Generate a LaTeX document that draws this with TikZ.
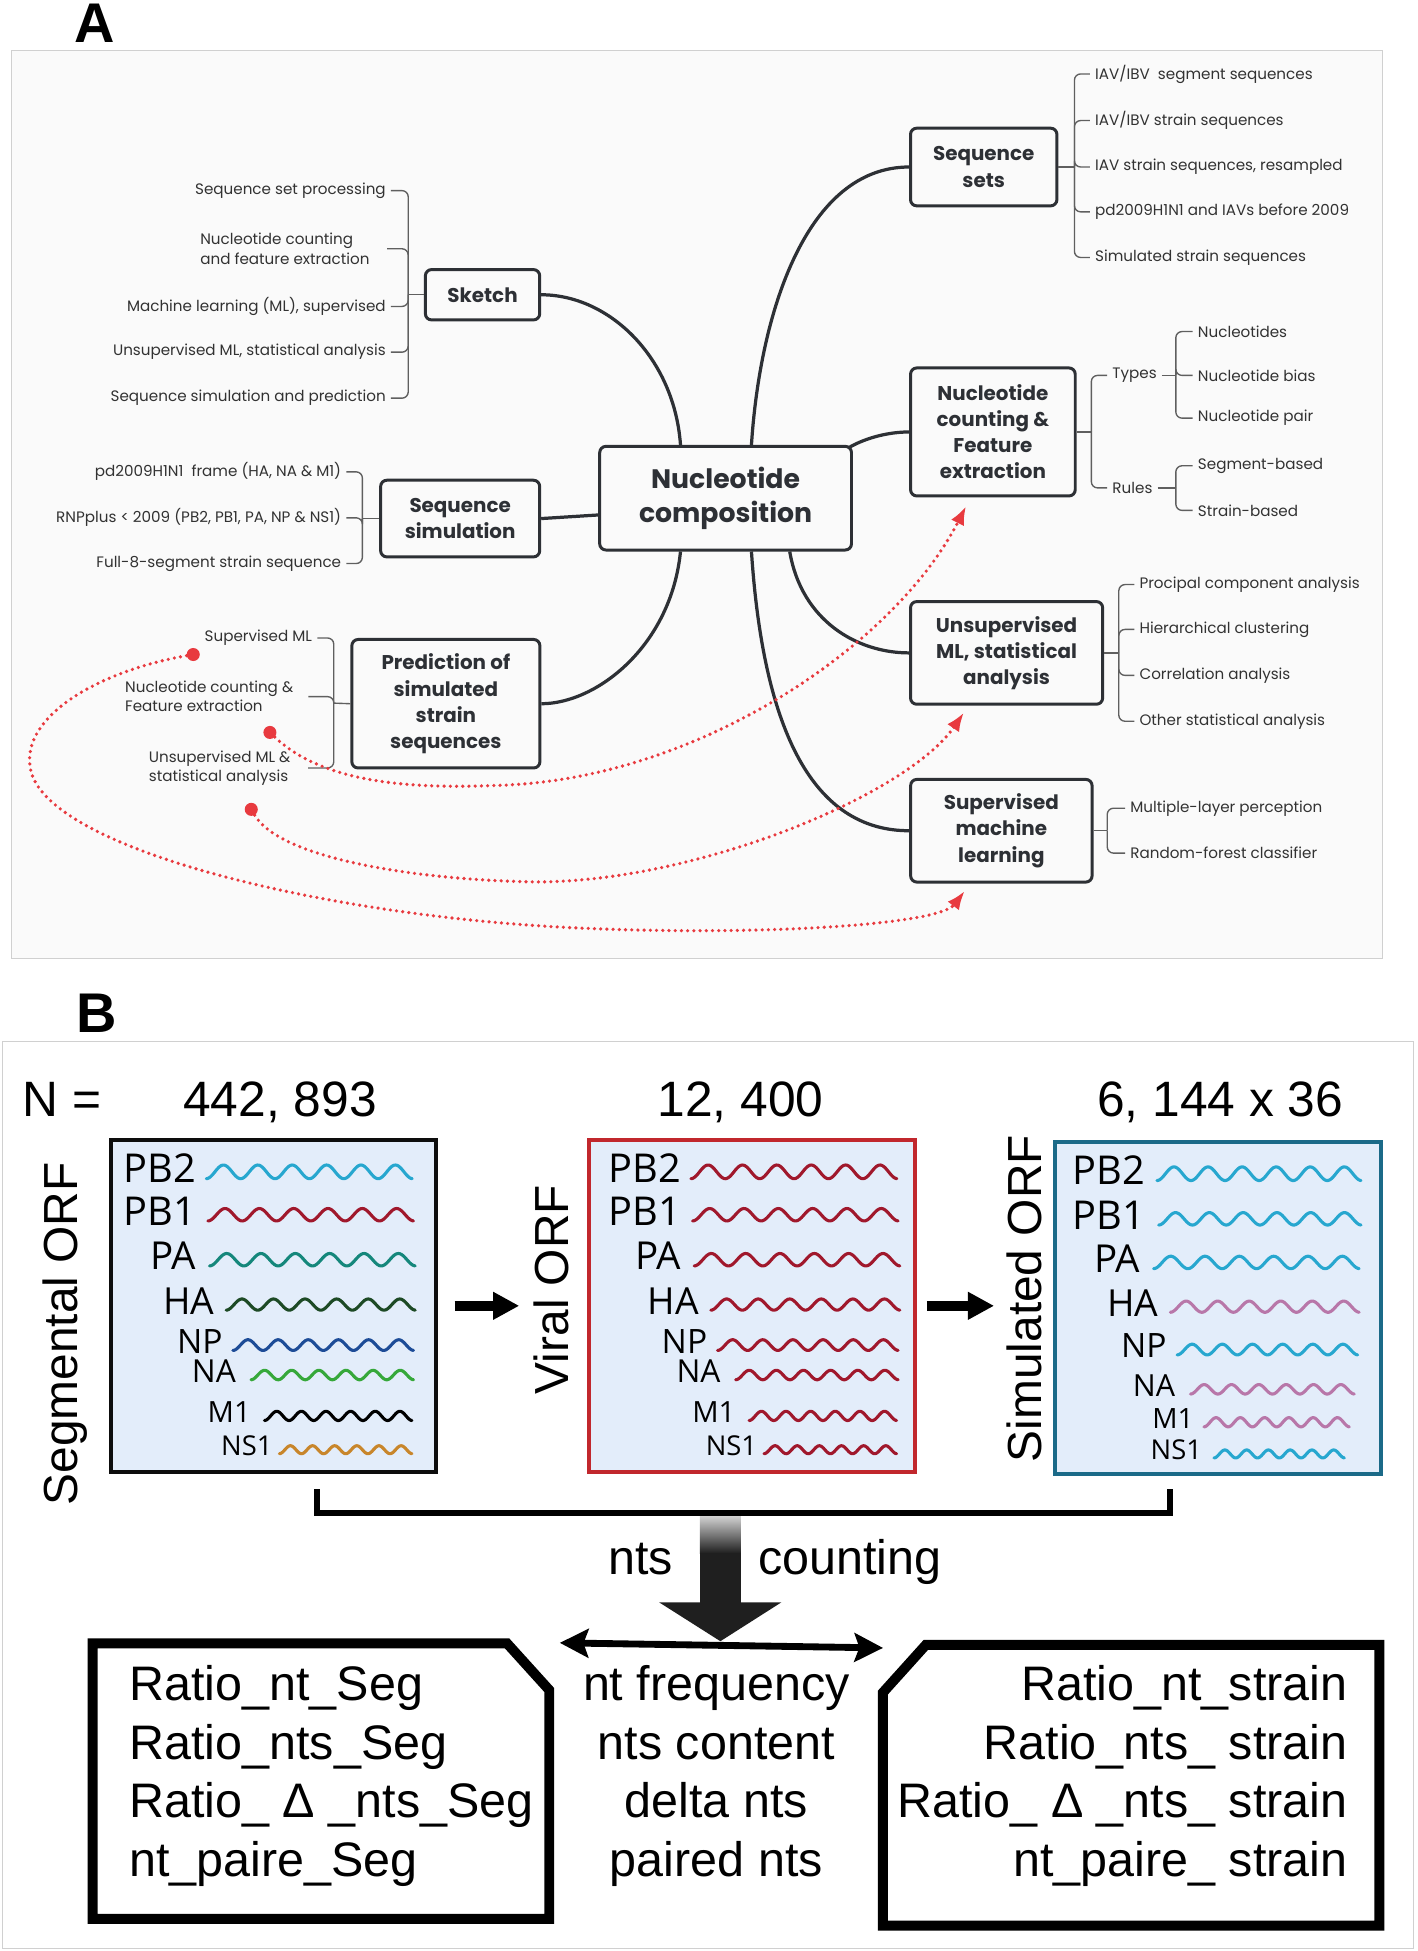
\documentclass[tikz,border=0pt]{standalone}
\usepackage{fontspec}
\usetikzlibrary{positioning, arrows.meta, calc, shapes}
\newfontfamily\mapfont{Poppins}
\newfontfamily\orffont{Liberation Sans}
\newfontfamily\genefont{Open Sans}
\definecolor{mapdark}{RGB}{45,48,53}
\definecolor{mapbg}{RGB}{250,250,250}
\definecolor{framegray}{RGB}{208,208,208}
\definecolor{leafgray}{RGB}{50,50,50}
\definecolor{leafline}{RGB}{95,95,95}
\definecolor{myred}{RGB}{232,58,63}
\definecolor{orffill}{RGB}{227,237,250}
\definecolor{viralred}{RGB}{193,39,45}
\definecolor{simblue}{RGB}{27,106,136}
\definecolor{gcyan}{RGB}{39,167,207}
\definecolor{gred}{RGB}{160,24,44}
\definecolor{gteal}{RGB}{21,135,123}
\definecolor{gdkgreen}{RGB}{29,74,37}
\definecolor{gnavy}{RGB}{29,76,151}
\definecolor{ggreen}{RGB}{54,168,58}
\definecolor{gorange}{RGB}{200,134,43}
\definecolor{gmauve}{RGB}{184,119,169}
\tikzset{
  panel/.style={inner sep=0, font=\orffont\bfseries\fontsize{45}{50}\selectfont},
  topic/.style={draw=mapdark, line width=2.4, rounded corners=5, fill=mapbg, align=center,
    text=mapdark, inner sep=2, font=\mapfont\bfseries\fontsize{16}{21}\selectfont},
  leaf/.style={inner xsep=4, inner ysep=1, text=leafgray, align=left,
    font=\mapfont\fontsize{12.2}{15.4}\selectfont},
  branch/.style={draw=leafline, line width=1.1, rounded corners=5},
  trunk/.style={draw=mapdark, line width=2.6},
  reddot/.style={circle, fill=myred, inner sep=0, minimum size=10.5},
  redlink/.style={draw=myred, line width=2.9, dash pattern=on 0pt off 5pt, line cap=round,
    -{Latex[length=15,width=11.5]}},
  orfbox/.style={draw, line width=3.5, fill=orffill, minimum width=262, minimum height=267, inner sep=0},
  orfname/.style={inner sep=0, font=\orffont\fontsize{38.5}{40}\selectfont},
  genelabel/.style={inner sep=0, anchor=east},
  wave/.style={line width=2.5, line cap=round},
  count/.style={inner sep=0, anchor=base, font=\orffont\fontsize{40}{48}\selectfont},
  ratio/.style={inner sep=0, font=\orffont\fontsize{39}{47}\selectfont},
  boxarrow/.style={line width=8, -{Triangle[length=21,width=21]}},
  bracketline/.style={line width=4.5},
  outbox/.style={line width=8, miter limit=20}
}
\newcommand{\orfrow}[9]{%
  \node[genelabel, font=\genefont\fontsize{#4}{#4}\selectfont] (#1) at (#2,#3) {#5};
  \draw[wave, #9] plot[domain=0:1, samples=150] ({#6+\x*(#7-#6)}, {#3+3+#8*cos(\x*2160)});
}

\begin{document}
\begin{tikzpicture}[x=1pt, y=-1pt]
\useasboundingbox (0,0) rectangle (1140.3,1570);

% ---------------- A
\node[panel] (labA) at (76,18.8) {A};
\draw[framegray, fill=mapbg] (9,40.2) rectangle (1112.7,771);

\node[topic, minimum width=202.6, minimum height=83.4, font=\mapfont\bfseries\fontsize{21.5}{27.3}\selectfont] (nc) at (583.9,400.9) {Nucleotide\\composition};
\node[topic, minimum width=92, minimum height=40.5] (sketch) at (388.3,237.2) {Sketch};
\node[topic, minimum width=128, minimum height=61.7] (sim) at (370.3,417.3) {Sequence\\simulation};
\node[topic, minimum width=151.3, minimum height=103.4] (pred) at (358.8,566.3) {Prediction of\\simulated\\strain\\sequences};
\node[topic, minimum width=117.8, minimum height=62.5] (sets) at (791.6,134.4) {Sequence\\sets};
\node[topic, minimum width=132.5, minimum height=103] (ncount) at (799,347.6) {Nucleotide\\counting \&\\Feature\\extraction};
\node[topic, minimum width=154.6, minimum height=82.6] (unsup) at (810,525.4) {Unsupervised\\ML, statistical\\analysis};
\node[topic, minimum width=146, minimum height=82.6] (sup) at (805.8,668.5) {Supervised\\machine\\learning};

\draw[trunk] (sketch.east) .. controls +(55,0) and +(-5,-70) .. ($(nc.north)+(-36.3,0)$);
\draw[trunk] ($(nc.north)+(20.8,0)$) .. controls +(7,-108) and +(-82,0) .. (sets.west);
\draw[trunk] ($(nc.west)+(0,13.5)$) -- (sim.east);
\draw[trunk] ($(nc.south)+(-36.3,0)$) .. controls +(-7.6,76) and +(44.4,0) .. (pred.east);
\draw[trunk] ($(nc.north east)+(-3,2)$) .. controls +(14,-8) and +(-16,0) .. (ncount.west);
\draw[trunk] ($(nc.south)+(51.6,0)$) .. controls +(9.5,56) and +(-41.5,0) .. (unsup.west);
\draw[trunk] ($(nc.south)+(20.8,0)$) .. controls +(10.3,156) and +(-71.5,0) .. (sup.west);

% sketch leaves
\node[leaf, anchor=east] (sk1) at (314.6,153.4) {Sequence set processing};
\node[leaf, anchor=west] (sk2) at (157,200.2) {Nucleotide counting\\and feature extraction};
\node[leaf, anchor=east] (sk3) at (314.6,246.6) {Machine learning (ML), supervised};
\node[leaf, anchor=east] (sk4) at (314.6,283.4) {Unsupervised ML, statistical analysis};
\node[leaf, anchor=east] (sk5) at (314.6,320.4) {Sequence simulation and prediction};
\coordinate (skj) at (328.5,237.2);
\draw[branch] (sketch.west) -- (skj);
\draw[branch] (skj) |- (sk1.east);
\draw[branch] (skj) |- ([xshift=10]sk2.east);
\draw[branch] (skj) |- (sk3.east);
\draw[branch] (skj) |- (sk4.east);
\draw[branch] (skj) |- (sk5.east);

% simulation leaves
\node[leaf, anchor=east] (sm1) at (278.7,379.7) {pd2009H1N1~ frame (HA, NA \& M1)};
\node[leaf, anchor=east] (sm2) at (278.7,416.7) {RNPplus < 2009 (PB2, PB1, PA, NP \& NS1)};
\node[leaf, anchor=east] (sm3) at (278.7,453.5) {Full-8-segment strain sequence};
\coordinate (smj) at (291.6,417.3);
\draw[branch] (sim.west) -- (smj);
\draw[branch] (smj) |- (sm1.east);
\draw[branch] (smj) |- (sm2.east);
\draw[branch] (smj) |- (sm3.east);

% prediction leaves
\node[leaf, anchor=east] (pr1) at (255.3,513.4) {Supervised ML};
\node[leaf, anchor=west] (pr2) at (96.5,560.6) {Nucleotide counting \&\\Feature extraction};
\node[leaf, anchor=west] (pr3) at (115.6,618) {Unsupervised ML \&\\statistical analysis};
\coordinate (prj) at (268.6,565.8);
\draw[branch] (pred.west) -- (prj);
\draw[branch] (prj) |- (pr1.east);
\draw[branch] (prj) |- ([xshift=8]pr2.east);
\draw[branch] (prj) |- ([xshift=10]pr3.east);

% sequence sets leaves
\node[leaf, anchor=west] (ss1) at (877.1,59.5) {IAV/IBV~ segment sequences};
\node[leaf, anchor=west] (ss2) at (877.1,97) {IAV/IBV strain sequences};
\node[leaf, anchor=west] (ss3) at (877.1,134.4) {IAV strain sequences, resampled};
\node[leaf, anchor=west] (ss4) at (877.1,170.5) {pd2009H1N1 and IAVs before 2009};
\node[leaf, anchor=west] (ss5) at (877.1,207.2) {Simulated strain sequences};
\coordinate (ssj) at (864.6,134.4);
\draw[branch] (sets.east) -- (ssj);
\draw[branch] (ssj) |- (ss1.west);
\draw[branch] (ssj) |- (ss2.west);
\draw[branch] (ssj) |- (ss3.west);
\draw[branch] (ssj) |- (ss4.west);
\draw[branch] (ssj) |- (ss5.west);

% counting leaves
\node[leaf, anchor=west] (types) at (891,302.1) {Types};
\node[leaf, anchor=west] (rules) at (891,392.6) {Rules};
\coordinate (ncj) at (878.2,347.6);
\draw[branch] (ncount.east) -- (ncj);
\draw[branch] (ncj) |- (types.west);
\draw[branch] (ncj) |- (rules.west);
\node[leaf, anchor=west] (ty1) at (959.8,266.8) {Nucleotides};
\node[leaf, anchor=west] (ty2) at (959.8,302.1) {Nucleotide bias};
\node[leaf, anchor=west] (ty3) at (959.8,336.5) {Nucleotide pair};
\coordinate (tyj) at (946.2,302.1);
\draw[branch] (types.east) -- (tyj);
\draw[branch] (tyj) |- (ty1.west);
\draw[branch] (tyj) |- (ty2.west);
\draw[branch] (tyj) |- (ty3.west);
\node[leaf, anchor=west] (ru1) at (959.8,374.8) {Segment-based};
\node[leaf, anchor=west] (ru2) at (959.8,410.7) {Strain-based};
\coordinate (ruj) at (946.2,392.6);
\draw[branch] (rules.east) -- (ruj);
\draw[branch] (ruj) |- (ru1.west);
\draw[branch] (ruj) |- (ru2.west);

% unsupervised leaves
\node[leaf, anchor=west] (un1) at (912.8,470.4) {Procipal component analysis};
\node[leaf, anchor=west] (un2) at (912.8,506.5) {Hierarchical clustering};
\node[leaf, anchor=west] (un3) at (912.8,543.5) {Correlation analysis};
\node[leaf, anchor=west] (un4) at (912.8,580.4) {Other statistical analysis};
\coordinate (unj) at (900.3,525.4);
\draw[branch] (unsup.east) -- (unj);
\draw[branch] (unj) |- (un1.west);
\draw[branch] (unj) |- (un2.west);
\draw[branch] (unj) |- (un3.west);
\draw[branch] (unj) |- (un4.west);

% supervised leaves
\node[leaf, anchor=west] (su1) at (905.4,650.4) {Multiple-layer perception};
\node[leaf, anchor=west] (su2) at (905.4,686.5) {Random-forest classifier};
\coordinate (suj) at (891,668.5);
\draw[branch] (sup.east) -- (suj);
\draw[branch] (suj) |- (su1.west);
\draw[branch] (suj) |- (su2.west);

% red links
\node[reddot] (d1) at (155.5,526.7) {};
\node[reddot] (d2) at (217.2,589.4) {};
\node[reddot] (d3) at (202.2,651.3) {};
\coordinate (t1) at (777.4,407.3);
\coordinate (t2) at (775.6,573.5);
\coordinate (t3) at (776.3,717);
\draw[redlink] (d2) .. controls (260,630) and (330,635) .. (400,632) .. controls (560,628) and (720,520) .. (t1);
\draw[redlink] (d3) .. controls (225,690) and (330,708) .. (431,709.7) .. controls (560,710) and (730,640) .. (t2);
\draw[redlink] (d1) .. controls (80,540) and (20,575) .. (24,615) .. controls (28,680) and (250,735) .. (450,746) .. controls (600,754) and (755,745) .. (t3);

% ---------------- B
\draw[framegray, fill=white] (2.2,838) rectangle (1137.2,1567.5);
\node[panel] (labB) at (77.5,815) {B};

\node[count, anchor=base west] (nlab) at (18,898.3) {N =};
\node[count] (nseg) at (225.3,898.3) {442, 893};
\node[count] (nvir) at (596,898.3) {12, 400};
\node[count] (nsim) at (981.9,898.3) {6, 144 x 36};

\node[orfbox, draw=black!95] (seg) at (220.1,1050.8) {};
\node[orfbox, draw=viralred] (vir) at (605.2,1050.8) {};
\node[orfbox, draw=simblue] (simorf) at (980.2,1052.5) {};
\node[orfname, rotate=90] (segname) at (52.8,1073.3) {Segmental ORF};
\node[orfname, rotate=90] (virname) at (443.9,1037.7) {Viral ORF};
\node[orfname, rotate=90] (simname) at (824,1045) {Simulated ORF};

\orfrow{s1a}{158}{940}{32}{PB2}{166}{332}{5.5}{gcyan}
\orfrow{s1b}{158}{974.5}{32}{PB1}{167.3}{333}{5}{gred}
\orfrow{s1c}{158}{1010.7}{31}{PA}{168.6}{334.4}{5}{gteal}
\orfrow{s1d}{172.6}{1046.8}{30}{HA}{182}{334.4}{4.5}{gdkgreen}
\orfrow{s1e}{179.3}{1079.4}{27}{NP}{187.4}{333}{4.3}{gnavy}
\orfrow{s1f}{190}{1103.5}{25.5}{NA}{202}{333}{3.8}{ggreen}
\orfrow{s1g}{202}{1136.4}{23.5}{M1}{212.8}{331.7}{3.7}{black}
\orfrow{s1h}{219.4}{1163.6}{22}{NS1}{224.8}{331.7}{3.2}{gorange}

\orfrow{s2a}{548}{940}{32}{PB2}{556}{722}{5.5}{gred}
\orfrow{s2b}{548}{974.5}{32}{PB1}{557.3}{723}{5}{gred}
\orfrow{s2c}{548}{1010.7}{31}{PA}{558.6}{724.4}{5}{gred}
\orfrow{s2d}{562.6}{1046.8}{30}{HA}{572}{724.4}{4.5}{gred}
\orfrow{s2e}{569.3}{1079.4}{27}{NP}{577.4}{723}{4.3}{gred}
\orfrow{s2f}{580}{1103.5}{25.5}{NA}{592}{723}{3.8}{gred}
\orfrow{s2g}{592}{1136.4}{23.5}{M1}{602.8}{721.7}{3.7}{gred}
\orfrow{s2h}{609.4}{1163.6}{22}{NS1}{614.8}{721.7}{3.2}{gred}

\orfrow{s3a}{921.6}{941.5}{32}{PB2}{931}{1095.5}{5.5}{gcyan}
\orfrow{s3b}{921.6}{977.8}{32}{PB1}{932.4}{1095.5}{5}{gcyan}
\orfrow{s3c}{917.6}{1012.9}{31}{PA}{928.3}{1094}{5}{gcyan}
\orfrow{s3d}{932.4}{1048.5}{30}{HA}{941.8}{1094}{4.5}{gmauve}
\orfrow{s3e}{939}{1083}{27}{NP}{947.2}{1092.8}{4.3}{gcyan}
\orfrow{s3f}{945.9}{1115}{24.5}{NA}{958}{1090}{3.8}{gmauve}
\orfrow{s3g}{960.7}{1141.5}{22.5}{M1}{968.8}{1086}{3.7}{gmauve}
\orfrow{s3h}{967.4}{1167}{22}{NS1}{976.9}{1082}{3.2}{gcyan}

\draw[boxarrow] ([xshift=13]seg.east) -- ([xshift=65]seg.east);
\draw[boxarrow] ([xshift=8]vir.east) -- ([xshift=62]vir.east);

\coordinate (brl) at (255,1198.6);
\coordinate (brr) at (941.3,1198.6);
\draw[bracketline] (brl) -- ++(0,19) -| (brr);

% counting arrow
\shade[top color=black!18, bottom color=black!88] (563.1,1220) rectangle (596.1,1250);
\fill[black!88] (563.1,1249.5) rectangle (596.1,1290);
\fill[black!88] (530.4,1289.4) -- (628.8,1289.4) -- (579.7,1320.7) -- cycle;
\node[ratio, anchor=base west] (ntsw) at (489.4,1267.1) {nts};
\node[ratio, anchor=base west] (cntw) at (610,1267.1) {counting};

\coordinate (dal) at (450.5,1322);
\coordinate (dar) at (710.6,1326.1);
\draw[line width=5.5, {Stealth[length=23,width=23,inset=4]}-{Stealth[length=23,width=23,inset=4]}] (dal) -- (dar);

\draw[outbox] (74.5,1322.4) -- (408,1322.4) -- (442,1360) -- (442,1544.2) -- (74.5,1544.2) -- cycle;
\draw[outbox] (745,1323.7) -- (1110,1323.7) -- (1110,1549.5) -- (710.5,1549.5) -- (710.5,1362) -- cycle;

\node[ratio, anchor=base west] (sg1) at (104,1368.4) {Ratio\_nt\_Seg};
\node[ratio, anchor=base west] (sg2) at (104,1415.7) {Ratio\_nts\_Seg};
\node[ratio, anchor=base west] (sg3) at (104,1462.9) {Ratio\_ Δ \_nts\_Seg};
\node[ratio, anchor=base west] (sg4) at (104,1510.3) {nt\_paire\_Seg};

\node[ratio, anchor=base] (md1) at (576.5,1368.4) {nt frequency};
\node[ratio, anchor=base] (md2) at (576.5,1415.7) {nts content};
\node[ratio, anchor=base] (md3) at (576.5,1462.9) {delta nts};
\node[ratio, anchor=base] (md4) at (576.5,1510.3) {paired nts};

\node[ratio, anchor=base east] (st1) at (1084.5,1368.4) {Ratio\_nt\_strain};
\node[ratio, anchor=base east] (st2) at (1084.5,1415.7) {Ratio\_nts\_ strain};
\node[ratio, anchor=base east] (st3) at (1084.5,1462.9) {Ratio\_ Δ \_nts\_ strain};
\node[ratio, anchor=base east] (st4) at (1084.5,1510.3) {nt\_paire\_ strain};

\end{tikzpicture}
\end{document}
